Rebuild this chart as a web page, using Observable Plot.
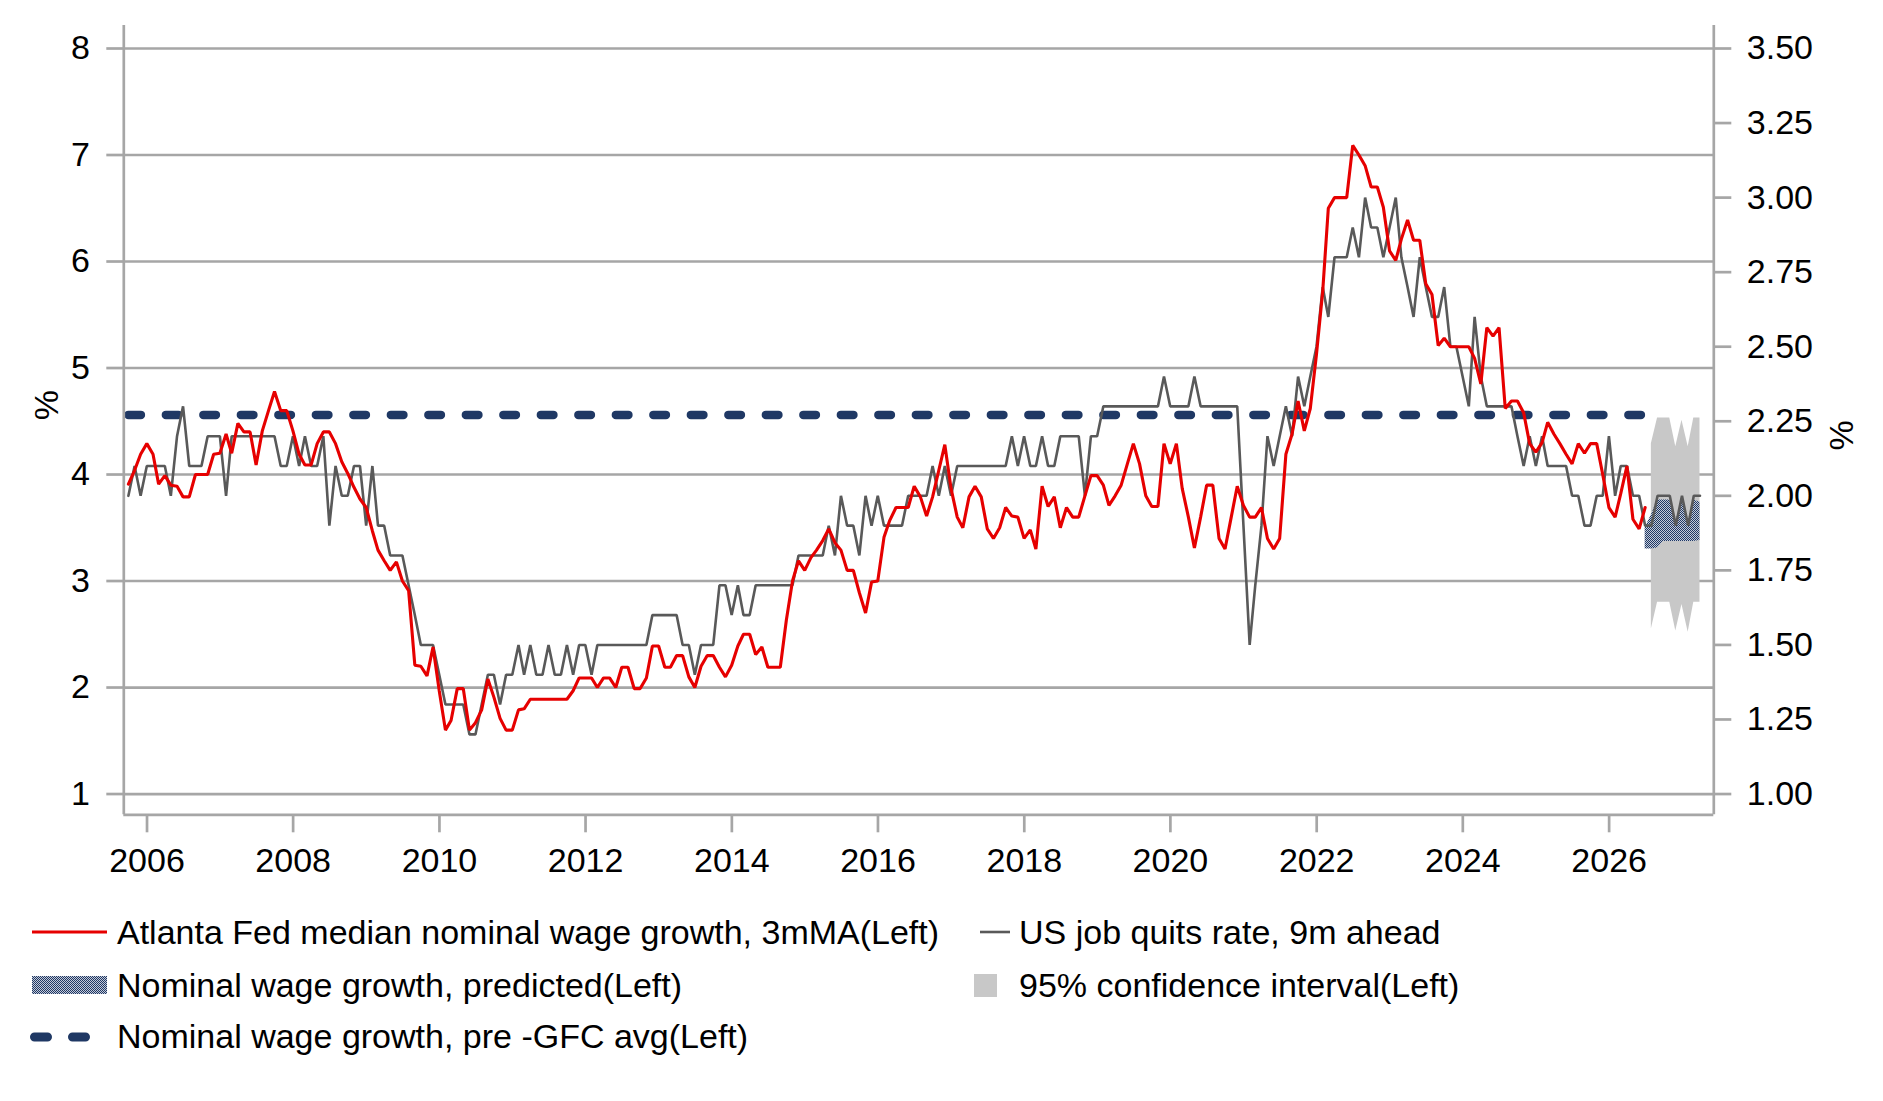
<!DOCTYPE html>
<html><head><meta charset="utf-8">
<script src="https://cdn.jsdelivr.net/npm/d3@7"></script>
<script src="https://cdn.jsdelivr.net/npm/@observablehq/plot@0.6"></script>
<style>
html,body{margin:0;padding:0;background:#fff;}
#chart svg,#legend svg{display:block;}
</style></head><body><div id="chart"></div><div id="legend"></div>
<script>
// Monthly series, first value = Sep 2005
const wageGrowth = [
3.91,4.04,4.19,4.29,4.19,3.91,3.99,3.90,3.89,3.79,3.79,4.00,4.00,4.00,4.19,4.20,4.38,4.20,4.48,4.40,
4.40,4.09,4.41,4.60,4.78,4.60,4.60,4.41,4.19,4.09,4.09,4.29,4.40,4.40,4.29,4.12,4.01,3.88,3.77,3.69,
3.47,3.29,3.19,3.10,3.18,3.00,2.91,2.21,2.20,2.11,2.38,1.97,1.60,1.69,1.99,1.99,1.60,1.67,1.79,2.08,
1.91,1.71,1.60,1.60,1.79,1.80,1.89,1.89,1.89,1.89,1.89,1.89,1.89,1.97,2.09,2.09,2.09,2.00,2.09,2.09,
2.00,2.19,2.19,1.99,1.99,2.09,2.39,2.39,2.19,2.19,2.30,2.30,2.10,2.00,2.20,2.30,2.30,2.19,2.10,2.21,
2.39,2.50,2.50,2.31,2.38,2.19,2.19,2.19,2.63,3.00,3.19,3.10,3.22,3.29,3.38,3.49,3.36,3.29,3.10,3.10,
2.89,2.70,2.99,3.00,3.41,3.57,3.69,3.69,3.69,3.89,3.79,3.61,3.79,4.04,4.28,3.87,3.60,3.50,3.79,3.89,
3.79,3.49,3.40,3.50,3.69,3.61,3.60,3.40,3.48,3.30,3.89,3.70,3.79,3.50,3.69,3.60,3.60,3.80,3.99,3.99,
3.90,3.71,3.80,3.90,4.10,4.29,4.10,3.80,3.70,3.70,4.29,4.10,4.29,3.87,3.60,3.31,3.60,3.90,3.90,3.40,
3.30,3.60,3.89,3.71,3.60,3.60,3.69,3.40,3.30,3.40,4.19,4.38,4.69,4.41,4.62,5.13,5.72,6.50,6.60,6.60,
6.60,7.09,7.00,6.90,6.70,6.70,6.51,6.10,6.01,6.21,6.39,6.20,6.20,5.79,5.69,5.21,5.28,5.20,5.20,5.20,
5.20,5.09,4.85,5.38,5.30,5.38,4.62,4.69,4.69,4.58,4.29,4.21,4.30,4.49,4.38,4.29,4.19,4.10,4.29,4.20,
4.29,4.29,4.00,3.69,3.60,3.82,4.08,3.58,3.49,3.69
];
// US job quits rate, 9m ahead (right axis units), first value = Sep 2005
const quitsRate = [
2.0,2.1,2.0,2.1,2.1,2.1,2.1,2.0,2.2,2.3,2.1,2.1,2.1,2.2,2.2,2.2,2.0,2.2,2.2,2.2,
2.2,2.2,2.2,2.2,2.2,2.1,2.1,2.2,2.1,2.2,2.1,2.1,2.2,1.9,2.1,2.0,2.0,2.1,2.1,1.9,
2.1,1.9,1.9,1.8,1.8,1.8,1.7,1.6,1.5,1.5,1.5,1.4,1.3,1.3,1.3,1.3,1.2,1.2,1.3,1.4,
1.4,1.3,1.4,1.4,1.5,1.4,1.5,1.4,1.4,1.5,1.4,1.4,1.5,1.4,1.5,1.5,1.4,1.5,1.5,1.5,
1.5,1.5,1.5,1.5,1.5,1.5,1.6,1.6,1.6,1.6,1.6,1.5,1.5,1.4,1.5,1.5,1.5,1.7,1.7,1.6,
1.7,1.6,1.6,1.7,1.7,1.7,1.7,1.7,1.7,1.7,1.8,1.8,1.8,1.8,1.8,1.9,1.8,2.0,1.9,1.9,
1.8,2.0,1.9,2.0,1.9,1.9,1.9,1.9,2.0,2.0,2.0,2.0,2.1,2.0,2.1,2.0,2.1,2.1,2.1,2.1,
2.1,2.1,2.1,2.1,2.1,2.2,2.1,2.2,2.1,2.1,2.2,2.1,2.1,2.2,2.2,2.2,2.2,2.0,2.2,2.2,
2.3,2.3,2.3,2.3,2.3,2.3,2.3,2.3,2.3,2.3,2.4,2.3,2.3,2.3,2.3,2.4,2.3,2.3,2.3,2.3,
2.3,2.3,2.3,1.9,1.5,1.7,1.9,2.2,2.1,2.2,2.3,2.2,2.4,2.3,2.4,2.5,2.7,2.6,2.8,2.8,
2.8,2.9,2.8,3.0,2.9,2.9,2.8,2.9,3.0,2.8,2.7,2.6,2.8,2.7,2.6,2.6,2.7,2.5,2.5,2.4,
2.3,2.6,2.4,2.3,2.3,2.3,2.3,2.3,2.2,2.1,2.2,2.1,2.2,2.1,2.1,2.1,2.1,2.0,2.0,1.9,
1.9,2.0,2.0,2.2,2.0,2.1,2.1,2.0,2.0,1.9,1.9,2.0,2.0,2.0,1.9,2.0,1.9,2.0,2.0
];
const preGfcAvg = 4.56;
// Predicted wage growth band (left axis), first value = Jun 2026 (index 249)
const predStart = 249;
const predLow  = [3.30,3.30,3.31,3.37,3.37,3.37,3.37,3.37,3.37,3.38];
const predHigh = [3.50,3.62,3.76,3.76,3.76,3.56,3.76,3.56,3.76,3.74];
// 95% confidence interval (left axis), first value = Jul 2026 (index 250)
const ciStart = 250;
const ciLow  = [2.55,2.80,2.80,2.80,2.53,2.78,2.52,2.80,2.80];
const ciHigh = [4.29,4.53,4.53,4.53,4.26,4.51,4.26,4.53,4.53];

const leftTicks = [1,2,3,4,5,6,7,8];
const rightTicks = [1.00,1.25,1.50,1.75,2.00,2.25,2.50,2.75,3.00,3.25,3.50];
const tickYears = [2006,2008,2010,2012,2014,2016,2018,2020,2022,2024,2026];

const dateOf = k => new Date(Date.UTC(2005, 9 + k, 0));
const toLeft = q => 1 + (q - 1) * 2.8;
const toRight = v => 1 + (v - 1) / 2.8;

const wage = wageGrowth.map((v, i) => ({date: dateOf(i), v}));
const quits = quitsRate.map((q, i) => ({date: dateOf(i), v: toLeft(q)}));
const pred = predLow.map((lo, i) => ({date: dateOf(predStart + i), lo, hi: predHigh[i]}));
const ci = ciLow.map((lo, i) => ({date: dateOf(ciStart + i), lo, hi: ciHigh[i]}));
const avg = [{date: dateOf(0), v: preGfcAvg}, {date: dateOf(wageGrowth.length - 1), v: preGfcAvg}];

const x0 = new Date(Date.UTC(2005, 8, 7)), x1 = new Date(Date.UTC(2027, 5, 8));
const y0 = 0.805, y1 = 8.216;
const GRID = "#a6a6a6";
const FONT = "'Liberation Sans', Arial, sans-serif";
const FS = 34;

const plot = Plot.plot({
  width: 1883, height: 900,
  marginLeft: 123.3, marginRight: 169.7, marginTop: 25, marginBottom: 85.7,
  style: {fontFamily: FONT, fontSize: FS + "px", color: "#000", background: "#fff", overflow: "visible"},
  x: {type: "utc", domain: [x0, x1]},
  y: {domain: [y0, y1]},
  marks: [
    Plot.ruleY(leftTicks, {stroke: GRID, strokeWidth: 2.7}),
    Plot.areaY(ci, {x: "date", y1: "lo", y2: "hi", fill: "#c8c8c8", curve: "linear"}),
    Plot.areaY(pred, {x: "date", y1: "lo", y2: "hi", fill: "url(#hatch)", curve: "linear"}),
    Plot.lineY(avg, {x: "date", y: "v", stroke: "#1f3864", strokeWidth: 8.5, strokeDasharray: "12.5 25", strokeLinecap: "round"}),
    Plot.lineY(quits, {x: "date", y: "v", stroke: "#595959", strokeWidth: 2.6, strokeLinejoin: "miter"}),
    Plot.lineY(wage, {x: "date", y: "v", stroke: "#e60000", strokeWidth: 3.1, strokeLinejoin: "miter"}),
    Plot.ruleX([x0, x1], {stroke: GRID, strokeWidth: 2.7}),
    Plot.ruleY([y0], {stroke: GRID, strokeWidth: 2.7}),
    Plot.axisX(tickYears.map(y => new Date(Date.UTC(y, 0, 1))), {anchor: "bottom", tickSize: 18, tickPadding: 15, stroke: GRID, strokeWidth: 2.7, fill: "#000", tickFormat: d3.utcFormat("%Y"), label: null}),
    Plot.axisY(leftTicks, {anchor: "left", tickSize: 17, tickPadding: 17, stroke: GRID, strokeWidth: 2.7, fill: "#000", tickFormat: d => String(d), label: null}),
    Plot.axisY(rightTicks.map(toLeft), {anchor: "right", tickSize: 17, tickPadding: 16, stroke: GRID, strokeWidth: 2.7, fill: "#000", tickFormat: v => toRight(v).toFixed(2), label: null}),
    Plot.text(["%"], {frameAnchor: "left", dx: -77, rotate: -90, fontSize: FS, fill: "#000"}),
    Plot.text(["%"], {frameAnchor: "right", dx: 128, rotate: -90, fontSize: FS, fill: "#000"})
  ]
});

function addHatch(svgSel) {
  const defs = svgSel.insert("defs", ":first-child");
  const pat = defs.append("pattern").attr("id", "hatch").attr("patternUnits", "userSpaceOnUse").attr("width", 2).attr("height", 2);
  pat.append("rect").attr("width", 2).attr("height", 2).attr("fill", "#c4cad8");
  pat.append("rect").attr("width", 1).attr("height", 1).attr("fill", "#1f3864");
  pat.append("rect").attr("x", 1).attr("y", 1).attr("width", 1).attr("height", 1).attr("fill", "#1f3864");
}
addHatch(d3.select(plot));
document.getElementById("chart").appendChild(plot);

// Legend
const legendItems = [
  {type: "line", color: "#e60000", label: "Atlanta Fed median nominal wage growth, 3mMA(Left)", col: 0, row: 0},
  {type: "shortline", color: "#595959", label: "US job quits rate, 9m ahead", col: 1, row: 0},
  {type: "hatch", label: "Nominal wage growth, predicted(Left)", col: 0, row: 1},
  {type: "square", color: "#c8c8c8", label: "95% confidence interval(Left)", col: 1, row: 1},
  {type: "dash", color: "#1f3864", label: "Nominal wage growth, pre -GFC avg(Left)", col: 0, row: 2}
];
const lg = d3.create("svg").attr("width", 1883).attr("height", 201)
  .style("font-family", FONT).style("font-size", FS + "px").style("background", "#fff");
const rowY = [32, 85, 136];
const colText = [117, 1019];
for (const it of legendItems) {
  const cy = rowY[it.row];
  if (it.type === "line") {
    lg.append("line").attr("x1", 32).attr("x2", 107).attr("y1", cy).attr("y2", cy).attr("stroke", it.color).attr("stroke-width", 2.9);
  } else if (it.type === "shortline") {
    lg.append("line").attr("x1", 980).attr("x2", 1010).attr("y1", cy).attr("y2", cy).attr("stroke", it.color).attr("stroke-width", 2.6);
  } else if (it.type === "hatch") {
    lg.append("rect").attr("x", 32).attr("y", cy - 9).attr("width", 75).attr("height", 18).attr("fill", "url(#hatch)");
  } else if (it.type === "square") {
    lg.append("rect").attr("x", 974).attr("y", cy - 11).attr("width", 23).attr("height", 23).attr("fill", it.color);
  } else if (it.type === "dash") {
    lg.append("line").attr("x1", 34.5).attr("x2", 85.5).attr("y1", cy + 1).attr("y2", cy + 1).attr("stroke", it.color).attr("stroke-width", 9).attr("stroke-dasharray", "13 25").attr("stroke-linecap", "round");
  }
  lg.append("text").attr("x", colText[it.col]).attr("y", cy + 12).attr("fill", "#000").text(it.label);
}
document.getElementById("legend").appendChild(lg.node());
</script>
</body></html>
